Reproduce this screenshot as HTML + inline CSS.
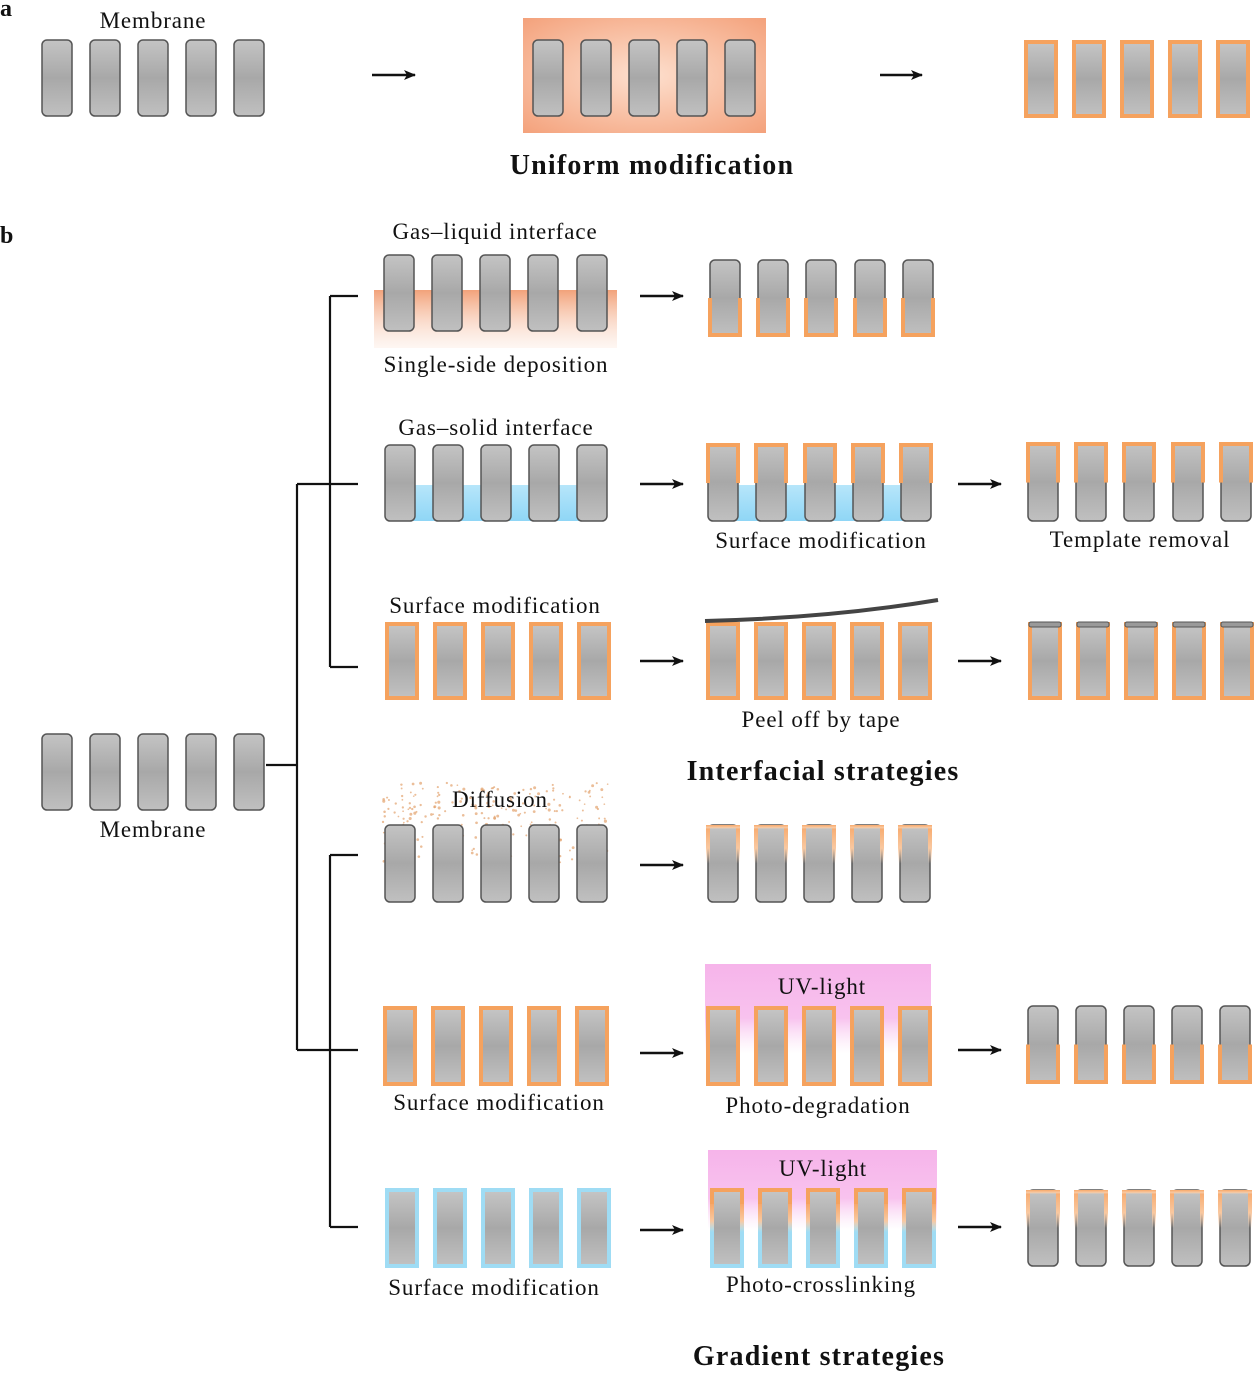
<!DOCTYPE html>
<html><head><meta charset="utf-8">
<style>
html,body{margin:0;padding:0;background:#fff;}
svg{display:block;}
text{font-family:"Liberation Serif",serif;fill:#111;}
.l{font-size:23px;text-anchor:middle;letter-spacing:0.9px;}
.b{font-size:28px;font-weight:bold;text-anchor:middle;letter-spacing:1.2px;}
</style></head>
<body>
<svg id="s" width="1255" height="1374" viewBox="0 0 1255 1374" xmlns="http://www.w3.org/2000/svg">
<defs>
<linearGradient id="g" x1="0" y1="0" x2="0" y2="1">
<stop offset="0" stop-color="#c4c4c4"/><stop offset="0.5" stop-color="#a8a8a8"/><stop offset="1" stop-color="#c0c0c0"/></linearGradient>
<linearGradient id="og" x1="0" y1="0" x2="0" y2="1">
<stop offset="0" stop-color="#f2a27a"/><stop offset="1" stop-color="#fbe3d6" stop-opacity="0.3"/></linearGradient>
<radialGradient id="oa" cx="0.5" cy="0.5" r="0.7">
<stop offset="0" stop-color="#fde0cf"/><stop offset="1" stop-color="#f4a27c"/></radialGradient>
<linearGradient id="pk" x1="0" y1="0" x2="0" y2="1">
<stop offset="0" stop-color="#f6b4ea"/><stop offset="0.6" stop-color="#f8c2ee"/><stop offset="1" stop-color="#fbe0f6" stop-opacity="0"/></linearGradient>
<linearGradient id="bl" x1="0" y1="0" x2="0" y2="1">
<stop offset="0" stop-color="#b7e6fa"/><stop offset="1" stop-color="#8fd6f6"/></linearGradient>
<linearGradient id="of" x1="0" y1="0" x2="0" y2="1">
<stop offset="0" stop-color="#f7a86a"/><stop offset="0.6" stop-color="#f9c8a0"/><stop offset="1" stop-color="#fbd9bd" stop-opacity="0"/></linearGradient>
<marker id="ar" markerWidth="12" markerHeight="10" refX="11" refY="5" orient="auto" markerUnits="userSpaceOnUse">
<path d="M0,0 L12,5 L0,10 L3,5 z" fill="#111"/></marker>
</defs>
<g id="bg"></g>
<g id="p"></g>
<g stroke="#111" stroke-width="2.2" fill="none">
<path d="M266,765 H297 M297,484 V1050 M297,484 H358 M297,1050 H358 M330,296 V667 M330,296 H358 M330,667 H358 M330,855 V1227 M330,855 H358 M330,1227 H358"/>
</g>
<g id="arrows" stroke="#111" stroke-width="2.4" marker-end="url(#ar)"></g>
<text x="0" y="16" style="font-size:24px;font-weight:bold">a</text>
<text x="0" y="243" style="font-size:24px;font-weight:bold">b</text>
<text class="l" x="153" y="28">Membrane</text>
<text class="b" x="652" y="174">Uniform modification</text>
<text class="l" x="495" y="239">Gas–liquid interface</text>
<text class="l" x="496" y="372">Single-side deposition</text>
<text class="l" x="496" y="435">Gas–solid interface</text>
<text class="l" x="821" y="548">Surface modification</text>
<text class="l" x="1140" y="547">Template removal</text>
<text class="l" x="495" y="613">Surface modification</text>
<text class="l" x="821" y="727">Peel off by tape</text>
<text class="b" x="823" y="780">Interfacial strategies</text>
<text class="l" x="153" y="837">Membrane</text>
<text class="l" x="500" y="807">Diffusion</text>
<text class="l" x="822" y="994">UV-light</text>
<text class="l" x="499" y="1110">Surface modification</text>
<text class="l" x="818" y="1113">Photo-degradation</text>
<text class="l" x="823" y="1176">UV-light</text>
<text class="l" x="494" y="1295">Surface modification</text>
<text class="l" x="821" y="1292">Photo-crosslinking</text>
<text class="b" x="819" y="1365">Gradient strategies</text>
</svg>
<script>
var NS="http://www.w3.org/2000/svg";
var P=document.getElementById('p'),B=document.getElementById('bg'),A=document.getElementById('arrows');
function add(par,tag,at){var e=document.createElementNS(NS,tag);for(var k in at)e.setAttribute(k,at[k]);par.appendChild(e);return e;}
var OR="#f5a25e",BL="#9fdcf4";
function frame(x,y,w,h,fill,top,bot){ // orange frame strips 4px
 add(P,'rect',{x:x,y:y,width:4,height:h,fill:fill});
 add(P,'rect',{x:x+w-4,y:y,width:4,height:h,fill:fill});
 if(top) add(P,'rect',{x:x,y:y,width:w,height:4,fill:fill});
 if(bot) add(P,'rect',{x:x,y:y+h-4,width:w,height:4,fill:fill});
}
function row(xs,y,h,type){
 xs.forEach(function(x){
  var w=30;
  if(type=='g'||type=='t'||type=='bo'||type=='f'){
   add(P,'rect',{x:x,y:y,width:w,height:h,rx:5,fill:'url(#g)',stroke:'#555','stroke-width':1.5});
   if(type=='t') frame(x-2,y-1,w+4,h*0.52,OR,true,false);
   if(type=='bo') frame(x-2,y+h*0.5,w+4,h*0.5+1,OR,false,true);
   if(type=='f') frame(x-2,y,w+4,h*0.5,'url(#of)',true,false);
  } else {
   var c=(type=='bl')?BL:OR;
   add(P,'rect',{x:x,y:y,width:34,height:h,fill:c});
   if(type=='tb'){add(P,'rect',{x:x,y:y+h*0.35,width:34,height:h*0.65,fill:BL});
     add(P,'rect',{x:x,y:y+h*0.2,width:34,height:h*0.35,fill:'url(#of)'});}
   add(P,'rect',{x:x+4,y:y+4,width:26,height:h-8,fill:'url(#g)'});
   if(type=='s'){add(P,'rect',{x:x+1,y:y,width:32,height:5,rx:2,fill:'#9a9a9a',stroke:'#555','stroke-width':1});}
  }
 });
}
function arr(x1,x2,y){add(A,'line',{x1:x1,y1:y,x2:x2,y2:y});}
row([42,90,138,186,234],40,76,'g');
add(B,'rect',{x:523,y:18,width:243,height:115,fill:'url(#oa)'});
row([533,581,629,677,725],40,76,'g');
row([1024,1072,1120,1168,1216],40,78,'o');
arr(372,415,75);arr(880,922,75);
add(B,'rect',{x:374,y:290,width:243,height:58,fill:'url(#og)'});
row([384,432,480,528,577],255,76,'g');
arr(640,683,296);
row([710,758,806,855,903],260,76,'bo');
add(B,'rect',{x:400,y:485,width:200,height:36,fill:'url(#bl)'});
row([385,433,481,529,577],445,76,'g');
arr(640,683,484);
add(B,'rect',{x:720,y:485,width:200,height:36,fill:'url(#bl)'});
row([708,756,805,853,901],444,77,'t');
arr(958,1001,484);
row([1028,1076,1124,1173,1221],443,78,'t');
row([385,433,481,529,577],622,78,'o');
arr(640,683,661);
row([706,754,802,850,898],622,78,'o');
var tp=add(P,'path',{d:'M705,621 Q830,618 938,600',stroke:'#444','stroke-width':4,fill:'none'});
arr(958,1001,661);
row([1028,1076,1124,1172,1220],622,78,'s');
row([42,90,138,186,234],734,76,'g');
(function(){var s=7;function r(){s=(s*9301+49297)%233280;return s/233280;}
for(var i=0;i<260;i++){add(B,'circle',{cx:383+r()*225,cy:783+r()*80,r:0.8+r()*0.8,fill:'#e3a36e',opacity:0.7});}})();
row([385,433,481,529,577],825,77,'g');
arr(640,683,865);
row([708,756,804,852,900],825,77,'f');
row([383,431,479,527,575],1006,80,'o');
arr(640,683,1053);
add(B,'rect',{x:705,y:964,width:226,height:90,fill:'url(#pk)'});
row([706,754,802,850,898],1006,80,'o');
arr(958,1001,1050);
row([1028,1076,1124,1172,1220],1006,77,'bo');
row([385,433,481,529,577],1188,80,'bl');
arr(640,683,1230);
add(B,'rect',{x:708,y:1150,width:229,height:80,fill:'url(#pk)'});
row([710,758,806,854,902],1188,80,'tb');
arr(958,1001,1227);
row([1028,1076,1124,1172,1220],1190,76,'f');
</script>
</body></html>
